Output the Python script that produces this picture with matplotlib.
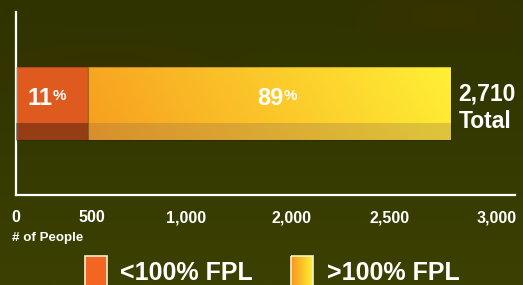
import numpy as np
import matplotlib
matplotlib.use("Agg")
import matplotlib.pyplot as plt
from matplotlib.patches import Rectangle
from matplotlib.colors import LinearSegmentedColormap

# ---- data ----
categories = ["<100% FPL", ">100% FPL"]
segment_values = [450, 2260]          # bar segment lengths as drawn (# of people)
segment_labels = ["11", "89"]          # percentage labels
total_value = 2710
total_label = ["2,710", "Total"]
tick_values = [0, 475, 1060, 1720, 2330, 3000]
tick_labels = ["0", "500", "1,000", "2,000", "2,500", "3,000"]
x_label = "# of People"

plt.rcParams['font.family'] = ['Liberation Sans', 'DejaVu Sans']
plt.rcParams['font.weight'] = 'bold'

W, H = 523, 285
PT = 72 / 100  # points per pixel
fig = plt.figure(figsize=(W / 100, H / 100), dpi=100)

# ---- background ----
bg = fig.add_axes([0, 0, 1, 1], zorder=-10)
bg.set_axis_off()
yy, xx = np.mgrid[0:1:200j, 0:1:400j]
top = np.array([0x2e, 0x33, 0x00]) / 255
bot = np.array([0x3c, 0x40, 0x02]) / 255
img = top[None, None, :] * (1 - yy[..., None]) + bot[None, None, :] * yy[..., None]
brown = np.array([0x37, 0x33, 0x00]) / 255
blob = np.exp(-(((xx - 0.2) / 0.25) ** 2 + ((yy - 0.25) / 0.12) ** 2))
blob2 = np.exp(-(((xx - 0.85) / 0.15) ** 2 + ((yy - 0.05) / 0.1) ** 2))
m = np.clip(blob * 0.8 + blob2 * 0.9, 0, 1)[..., None]
img = img * (1 - m) + brown[None, None, :] * m
bg.imshow(img, extent=[0, 1, 0, 1], aspect='auto', origin='upper')
bg.set_xlim(0, 1)
bg.set_ylim(0, 1)

# ---- main axes ----
ax_left = 16 / W
ax_bottom = (H - 195) / H
ax = fig.add_axes([ax_left, ax_bottom, 499 / W, 183 / H])
ax.patch.set_alpha(0)
xmax = 3000 * 499 / 481
ax.set_xlim(0, xmax)
ax.set_ylim(0, 1)
for s in ["top", "right"]:
    ax.spines[s].set_visible(False)
for s in ["left", "bottom"]:
    ax.spines[s].set_color("white")
    ax.spines[s].set_linewidth(1.6)
ax.set_yticks([])
ax.set_xticks(tick_values)
ax.set_xticklabels(tick_labels)
ax.tick_params(axis='x', length=0, pad=11, labelsize=11.5, labelcolor='white')
for t in ax.get_xticklabels():
    t.set_fontweight('bold')

bar_y, bar_h = 0.5, 0.4
lefts = np.concatenate([[0], np.cumsum(segment_values)[:-1]])
bars = ax.barh([bar_y] * len(segment_values), segment_values, left=lefts,
               height=bar_h, color=["#de5a1f", "none"], edgecolor="none", zorder=2)

# gradient for second segment
b2 = bars[1]
grad_cmap = LinearSegmentedColormap.from_list("g", ["#f79e1f", "#fbc72a", "#fff035"])
gx = np.linspace(0, 1, 256)
gy = np.linspace(0, 1, 20)
G = gx[None, :] * 0.9 + gy[:, None] * 0.1
im = ax.imshow(G, cmap=grad_cmap, aspect='auto', origin='lower',
               extent=[b2.get_x(), b2.get_x() + b2.get_width(), b2.get_y(), b2.get_y() + b2.get_height()],
               zorder=2)
im.set_clip_path(b2)

# bottom darker band
band_frac = 0.23
for b, col, a in zip(bars, ["#000000", "#8a6a50"], [0.32, 0.28]):
    ax.add_patch(Rectangle((b.get_x(), b.get_y()), b.get_width(), b.get_height() * band_frac,
                           facecolor=col, alpha=a, edgecolor='none', zorder=3))
for b in bars:
    ax.add_patch(Rectangle((b.get_x(), b.get_y()), b.get_width(), b.get_height(),
                           facecolor='none', edgecolor='#00000030', lw=0.8, zorder=4))

# percentage labels (digits right edge offset from segment centre, in pixels)
label_offsets_px = [0, 14]
num_base = (195 - 105) / 183
for b, lab, off in zip(bars, segment_labels, label_offsets_px):
    cx = b.get_x() + b.get_width() / 2
    ax.annotate(lab, (cx, num_base), ha='right', va='baseline', color='white',
                fontsize=17, fontweight='bold', zorder=5,
                xytext=(off * PT, 0), textcoords='offset points')
    ax.annotate("%", (cx, num_base), ha='left', va='baseline', color='white',
                fontsize=11, fontweight='bold', zorder=5,
                xytext=((off + 0.5) * PT, 5 * PT), textcoords='offset points')

# total label
ax.annotate(total_label[0], (total_value, (195 - 100) / 183), xytext=(8 * PT, 0), textcoords='offset points',
            ha='left', va='baseline', color='white', fontsize=16.5, fontweight='bold')
ax.annotate(total_label[1], (total_value, (195 - 128) / 183), xytext=(8.5 * PT, 0), textcoords='offset points',
            ha='left', va='baseline', color='white', fontsize=16.5, fontweight='bold')

# axis title
fig.text(12 / W, (H - 237.5) / H, x_label, color='white', fontsize=9.6, fontweight='bold',
         ha='left', va='center')

# ---- legend ----
lg = fig.add_axes([0, 0, 1, 1], zorder=5)
lg.set_axis_off()
leg_sq_x = [85, 291]
leg_txt_x = [120, 327]
for i, (cat, sx, tx) in enumerate(zip(categories, leg_sq_x, leg_txt_x)):
    r = Rectangle((sx, 256), 22, 40, facecolor="#f26522" if i == 0 else 'none',
                  edgecolor='#f5f0d0', lw=1.2, zorder=6)
    lg.add_patch(r)
    if i == 1:
        gim = lg.imshow(np.linspace(0, 1, 64)[None, :],
                        cmap=LinearSegmentedColormap.from_list("l", ["#f7941d", "#fff033"]),
                        aspect='auto', extent=[sx, sx + 22, 296, 256], zorder=5)
        gim.set_clip_path(r)
    lg.text(tx, 280.5, cat, color='white', fontsize=18, fontweight='bold', ha='left', va='baseline')
lg.set_xlim(0, W)
lg.set_ylim(H, 0)

fig.savefig("out.png", dpi=100)
